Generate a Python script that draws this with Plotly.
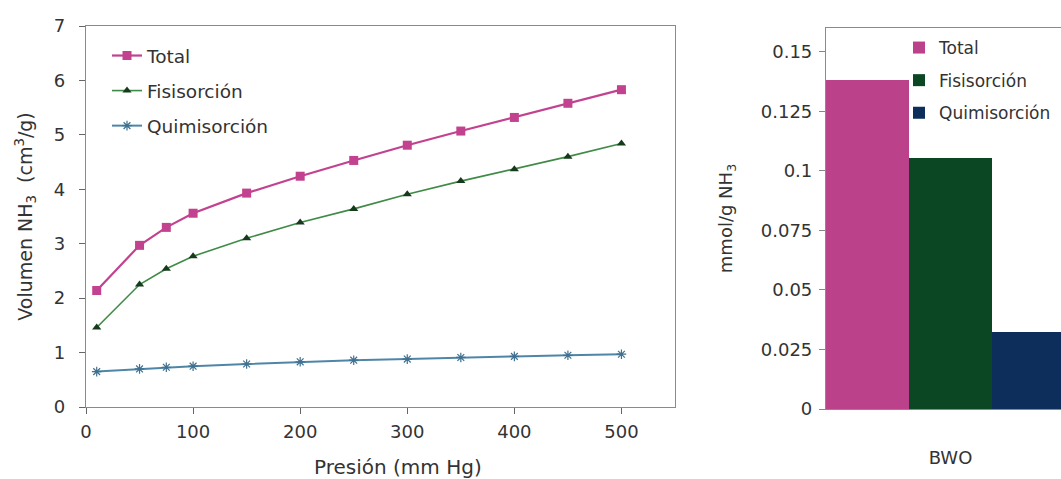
import plotly.graph_objects as go

# NH3 adsorption isotherm (left panel)
pressure = [10, 50, 75, 100, 150, 200, 250, 300, 350, 400, 450, 500]
total = [2.14, 2.97, 3.30, 3.56, 3.93, 4.24, 4.53, 4.81, 5.07, 5.32, 5.58, 5.83]
fisisorcion = [1.46, 2.25, 2.54, 2.77, 3.10, 3.39, 3.64, 3.91, 4.15, 4.37, 4.60, 4.84]
quimisorcion = [0.65, 0.70, 0.73, 0.75, 0.79, 0.83, 0.86, 0.88, 0.91, 0.93, 0.95, 0.97]
x_ticks = [0, 100, 200, 300, 400, 500]

# Adsorbed amount per sample (right panel)
samples = ["BWO"]
bar_total = [0.138]
bar_fisisorcion = [0.1055]
bar_quimisorcion = [0.0325]
y2_tickvals = [0, 0.025, 0.05, 0.075, 0.1, 0.125, 0.15]
y2_ticktext = ["0", "0.025", "0.05", "0.075", "0.1", "0.125", "0.15"]

W, H = 1061, 479
MT, MB = 26, 70
PH = H - MT - MB
FONT = "DejaVu Sans"
TXT = "#333333"
AX = "#8a8a8a"

fig = go.Figure()

fig.add_trace(go.Scatter(
    x=pressure, y=total, name="Total", mode="lines+markers",
    line=dict(color="#c2428f", width=2.2),
    marker=dict(symbol="square", size=9, color="#c2428f"),
    legend="legend", legendgroup="t", xaxis="x", yaxis="y"))
fig.add_trace(go.Scatter(
    x=pressure, y=fisisorcion, name="Fisisorción", mode="lines+markers",
    line=dict(color="#3f8a45", width=1.6),
    marker=dict(symbol="triangle-up", size=8, color="#163a1c"),
    legend="legend", legendgroup="f", xaxis="x", yaxis="y"))
fig.add_trace(go.Scatter(
    x=pressure, y=quimisorcion, name="Quimisorción", mode="lines+markers",
    line=dict(color="#4f86a8", width=2),
    marker=dict(symbol="asterisk-open", size=8, color="#3f7090",
                line=dict(width=1.2, color="#3f7090")),
    legend="legend", legendgroup="q", xaxis="x", yaxis="y"))

fig.add_trace(go.Bar(x=samples, y=bar_total, name="Total",
                     marker=dict(color="#bb418b", line=dict(width=0)),
                     legend="legend2", legendgroup="bt", xaxis="x2", yaxis="y2"))
fig.add_trace(go.Bar(x=samples, y=bar_fisisorcion, name="Fisisorción",
                     marker=dict(color="#0b4722", line=dict(width=0)),
                     legend="legend2", legendgroup="bf", xaxis="x2", yaxis="y2"))
fig.add_trace(go.Bar(x=samples, y=bar_quimisorcion, name="Quimisorción",
                     marker=dict(color="#0d2e5a", line=dict(width=0)),
                     legend="legend2", legendgroup="bq", xaxis="x2", yaxis="y2"))

# right panel: one category whose bar group runs past the right edge
group_px = 249.0
x2_left = 826
x2_range = [-0.5, -0.5 + (W - x2_left) / group_px]

fig.update_layout(
    width=W, height=H,
    margin=dict(l=0, r=0, t=MT, b=MB, autoexpand=False),
    paper_bgcolor="white", plot_bgcolor="white",
    font=dict(family=FONT, size=18, color=TXT),
    barmode="group", bargap=0, bargroupgap=0,
    xaxis=dict(
        domain=[86 / W, 675 / W], anchor="y", automargin=False,
        range=[0, 550], tickvals=x_ticks,
        showline=True, mirror=True, linecolor=AX, linewidth=1.2,
        ticks="outside", ticklen=6, tickcolor="#666", tickwidth=1,
        ticklabelstandoff=2,
        showgrid=False, zeroline=False,
    ),
    yaxis=dict(
        domain=[2 / PH, 1], anchor="x", automargin=False,
        range=[0, 7], dtick=1,
        showline=True, mirror=True, linecolor=AX, linewidth=1.2,
        ticks="outside", ticklen=6, tickcolor="#666", tickwidth=1,
        ticklabelstandoff=10,
        showgrid=False, zeroline=False,
        title=dict(text="Volumen NH<sub>3</sub>  (cm<sup>3</sup>/g)",
                   font=dict(size=19), standoff=16),
    ),
    xaxis2=dict(
        domain=[x2_left / W, 1], anchor="y2", type="category", automargin=False,
        range=x2_range,
        showline=True, mirror=True, linecolor=AX, linewidth=1.2,
        layer="below traces",
        ticks="", ticklabelstandoff=32,
        showgrid=False, zeroline=False,
    ),
    yaxis2=dict(
        domain=[0, 1 - 2 / PH], anchor="x2", automargin=False,
        range=[0, 0.16], tickvals=y2_tickvals, ticktext=y2_ticktext,
        showline=True, linecolor=AX, linewidth=1.2,
        ticks="outside", ticklen=6, tickcolor="#888", tickwidth=1,
        ticklabelstandoff=3,
        showgrid=False, zeroline=False,
        title=dict(text="mmol/g NH<sub>3</sub>", font=dict(size=18), standoff=23),
    ),
    legend=dict(
        x=107 / W, xanchor="left", y=1 - (37 - MT) / PH, yanchor="top",
        bgcolor="rgba(0,0,0,0)", borderwidth=0,
        traceorder="grouped", tracegroupgap=8,
        font=dict(size=18.5),
    ),
    legend2=dict(
        x=899 / W, xanchor="left", y=1 - (30 - MT) / PH, yanchor="top",
        bgcolor="rgba(0,0,0,0)", borderwidth=0,
        traceorder="grouped", tracegroupgap=7.5,
        font=dict(size=17),
    ),
    annotations=[dict(
        text="Presión (mm Hg)", xref="paper", yref="paper",
        x=398 / W, y=-(467 - (H - MB)) / PH, xanchor="center", yanchor="middle",
        showarrow=False, font=dict(size=20, color=TXT),
    )],
)

fig.write_html("out.html")
